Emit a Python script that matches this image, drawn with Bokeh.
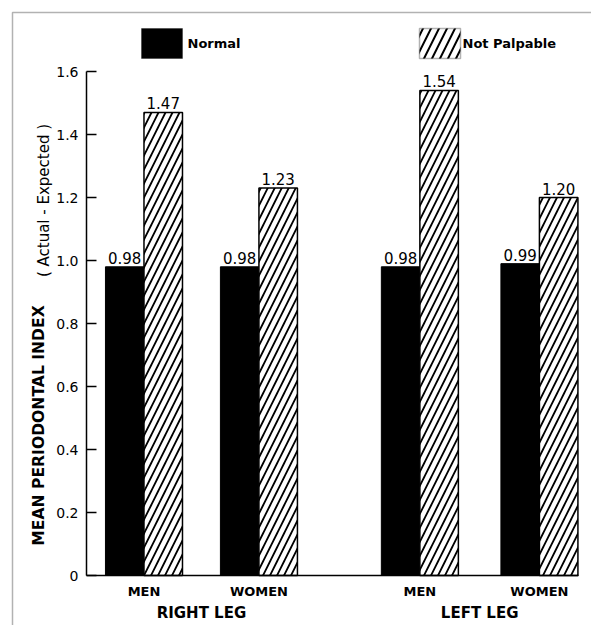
import math
from bokeh.plotting import figure
from bokeh.models import (ColumnDataSource, Range1d, LinearAxis, FixedTicker,
                          LabelSet, Label, BoxAnnotation)
from bokeh.core.properties import value
from bokeh.embed import file_html
from bokeh.resources import INLINE

# ---------------- data ----------------
groups = ["MEN", "WOMEN", "MEN", "WOMEN"]
legs = ["RIGHT LEG", "LEFT LEG"]
normal = [0.98, 0.98, 0.98, 0.99]
not_palpable = [1.47, 1.23, 1.54, 1.20]
normal_labels = ["0.98", "0.98", "0.98", "0.99"]
not_palpable_labels = ["1.47", "1.23", "1.54", "1.20"]
y_ticks = [0, 0.2, 0.4, 0.6, 0.8, 1.0, 1.2, 1.4, 1.6]
y_tick_labels = ["0", "0.2", "0.4", "0.6", "0.8", "1.0", "1.2", "1.4", "1.6"]
series_names = ["Normal", "Not Palpable"]
y_title = "MEAN PERIODONTAL INDEX"
y_subtitle = "( Actual - Expected )"

# ---------------- layout ----------------
W, H = 591, 625
group_pos = [0.0, 1.0, 2.4, 3.44]
leg_pos = [(group_pos[0] + group_pos[1]) / 2, (group_pos[2] + group_pos[3]) / 2]
bar_w = 0.335
XA0, XA1 = -0.5, 3.78      # x-axis extent (data)
YA0, YA1 = 0.0, 1.6        # y-axis extent (data)
AX_L, AX_R = 86, 578       # axis extent, px
AX_B, AX_T = 575, 71
PX = (AX_R - AX_L) / (XA1 - XA0)
PY = (AX_B - AX_T) / (YA1 - YA0)


def dx(px):
    return XA0 + (px - AX_L) / PX


def dy(py):
    return YA0 + (AX_B - py) / PY


FONT = "DejaVu Sans"

p = figure(width=W, height=H,
           x_range=Range1d(dx(0), dx(W)), y_range=Range1d(dy(H), dy(0)),
           output_backend="svg", toolbar_location=None,
           x_axis_type=None, y_axis_type=None,
           min_border=0, min_border_left=0, min_border_right=0,
           min_border_top=0, min_border_bottom=0)
p.outline_line_color = None
p.xgrid.visible = False
p.ygrid.visible = False
p.background_fill_color = "white"
p.border_fill_color = "white"

# y axis
yax = LinearAxis(ticker=FixedTicker(ticks=y_ticks),
                 major_label_overrides=dict(zip(y_ticks, y_tick_labels)),
                 fixed_location=XA0, bounds=(YA0, YA1),
                 major_tick_in=10, major_tick_out=0,
                 minor_tick_in=0, minor_tick_out=0,
                 axis_line_width=1.5, axis_line_color="black",
                 major_tick_line_width=1.5, major_tick_line_color="black",
                 major_label_standoff=8,
                 major_label_text_font=FONT, major_label_text_font_size="14px",
                 major_label_text_color="black")
p.add_layout(yax, "left")

# x axis (sub-groups)
xax = LinearAxis(ticker=FixedTicker(ticks=group_pos),
                 major_label_overrides=dict(zip(group_pos, groups)),
                 fixed_location=YA0, bounds=(XA0, XA1),
                 major_tick_in=0, major_tick_out=0,
                 minor_tick_in=0, minor_tick_out=0,
                 axis_line_width=1.5, axis_line_color="black",
                 major_label_standoff=8,
                 major_label_text_font=FONT, major_label_text_font_size="13px",
                 major_label_text_font_style="bold",
                 major_label_text_color="black")
p.add_layout(xax, "below")

# x axis (groups)
xax2 = LinearAxis(ticker=FixedTicker(ticks=leg_pos),
                  major_label_overrides=dict(zip(leg_pos, legs)),
                  fixed_location=YA0, bounds=(XA0, XA1),
                  major_tick_in=0, major_tick_out=0,
                  minor_tick_in=0, minor_tick_out=0,
                  axis_line_color=None,
                  major_label_standoff=28,
                  major_label_text_font=FONT, major_label_text_font_size="15px",
                  major_label_text_font_style="bold",
                  major_label_text_color="black")
p.add_layout(xax2, "below")

# bars
src = ColumnDataSource(dict(
    xn=[g - bar_w / 2 for g in group_pos],
    xp=[g + bar_w / 2 for g in group_pos],
    normal=normal, npal=not_palpable,
    nl=normal_labels, npl=not_palpable_labels))

p.vbar(x="xn", top="normal", width=bar_w, source=src,
       fill_color="black", line_color="black", line_width=1)
p.vbar(x="xp", top="npal", width=bar_w, source=src,
       fill_color="white", line_color="black", line_width=1.5,
       hatch_pattern="/", hatch_color="black", hatch_scale=14, hatch_weight=1.8)

lab_kw = dict(text_font=value(FONT), text_font_size=value("15px"),
              text_align="center", text_baseline="bottom", text_color="black",
              y_offset=3)
p.add_layout(LabelSet(x="xn", y="normal", text="nl", source=src, **lab_kw))
p.add_layout(LabelSet(x="xp", y="npal", text="npl", source=src, **lab_kw))

# legend
p.add_layout(BoxAnnotation(left=dx(141), right=dx(182), top=dy(28), bottom=dy(58),
                           fill_color="black", fill_alpha=1, line_color="black"))
p.add_layout(BoxAnnotation(left=dx(419), right=dx(460), top=dy(28), bottom=dy(58),
                           fill_color="white", fill_alpha=1, line_color="black",
                           line_width=1.5, hatch_pattern="/", hatch_color="black",
                           hatch_scale=16, hatch_weight=2))
leg_txt = dict(text_font=FONT, text_font_size="13px", text_font_style="bold",
               text_baseline="middle", text_align="left", text_color="black")
p.add_layout(Label(x=dx(187), y=dy(43), text=series_names[0], **leg_txt))
p.add_layout(Label(x=dx(462), y=dy(43), text=series_names[1], **leg_txt))

# y-axis titles
p.add_layout(Label(x=dx(38), y=dy(425), text=y_title, angle=math.pi / 2,
                   text_font=FONT, text_font_size="15.6px", text_font_style="bold",
                   text_align="center", text_baseline="middle", text_color="black"))
p.add_layout(Label(x=dx(43), y=dy(200), text=y_subtitle, angle=math.pi / 2,
                   text_font=FONT, text_font_size="15px",
                   text_align="center", text_baseline="middle", text_color="black"))

# outer frame line (top and left)
p.add_layout(BoxAnnotation(left=dx(12), top=dy(12), right=dx(W + 30), bottom=dy(H + 30),
                           fill_alpha=0, line_color="black", line_width=1.5))

open("out.html", "w").write(file_html(p, INLINE))
